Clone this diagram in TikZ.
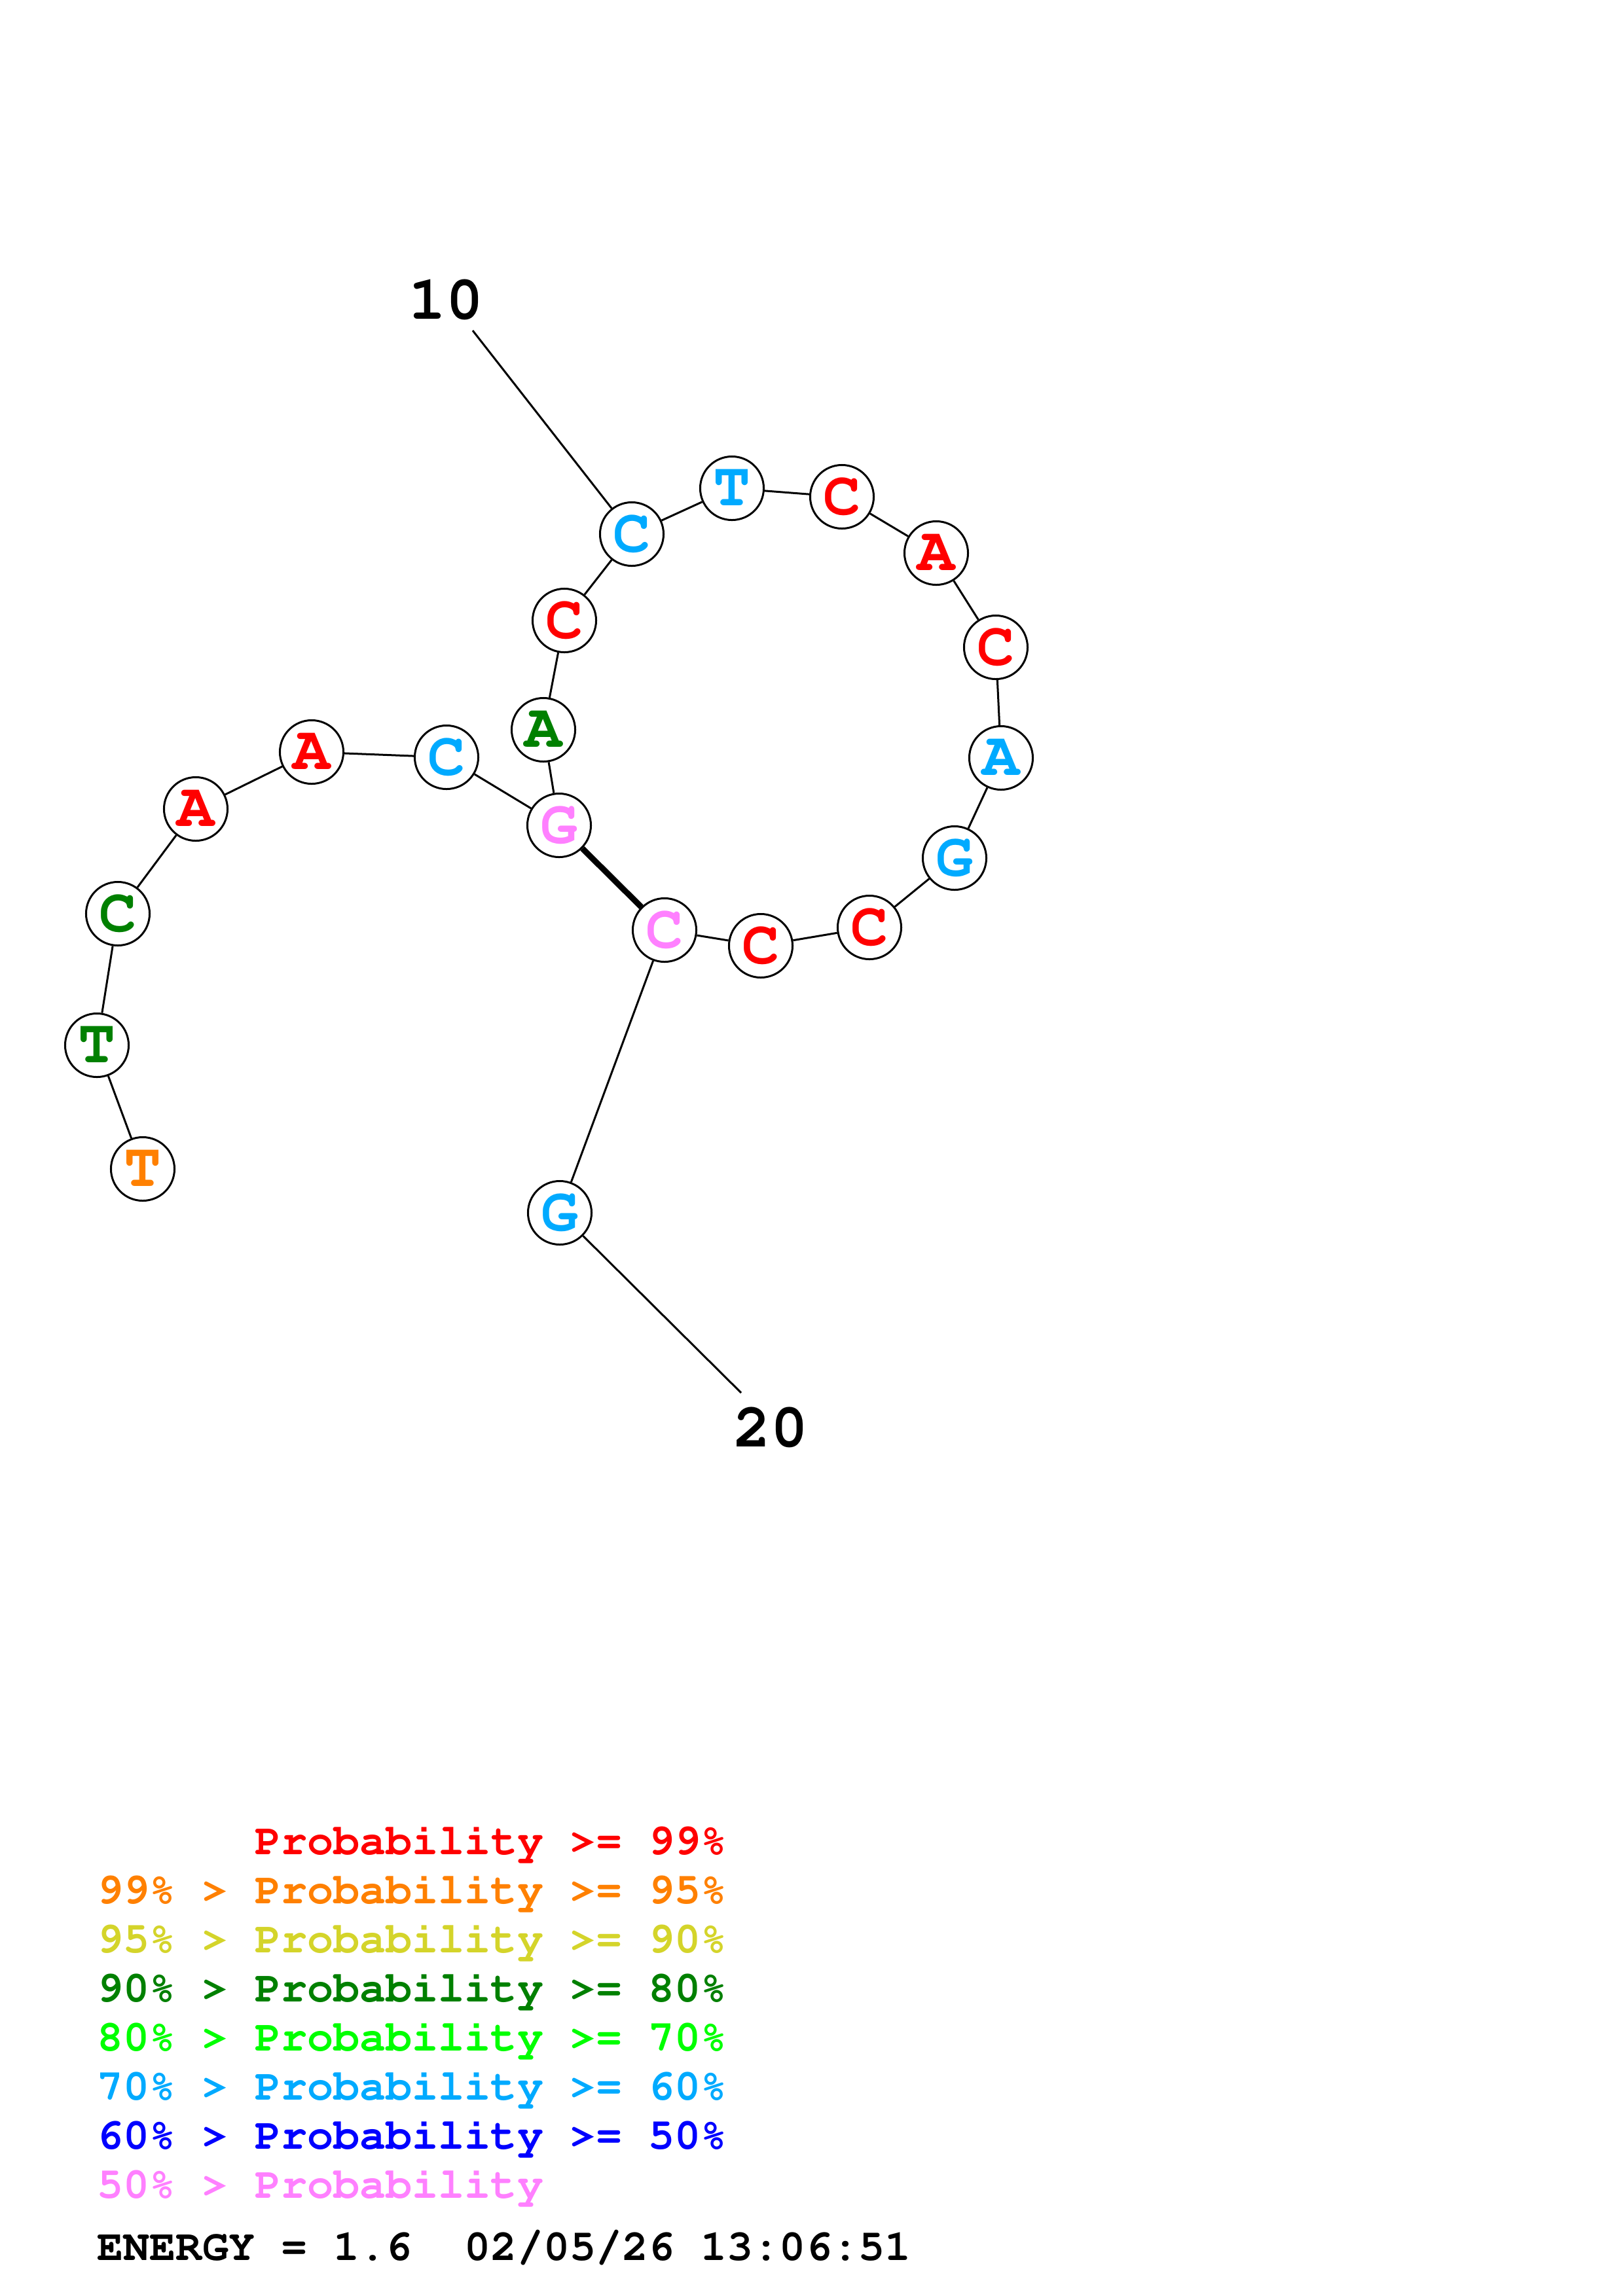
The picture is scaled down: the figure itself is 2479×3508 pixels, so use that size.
\documentclass[tikz,border=0pt]{standalone}
\usepackage[T1,TU]{fontenc}
\definecolor{cred}{RGB}{255,0,0}
\definecolor{corange}{RGB}{255,128,0}
\definecolor{cyellow}{RGB}{212,212,42}
\definecolor{cdkgreen}{RGB}{0,128,0}
\definecolor{cgreen}{RGB}{0,255,0}
\definecolor{csky}{RGB}{0,170,255}
\definecolor{cblue}{RGB}{0,0,255}
\definecolor{cpink}{RGB}{255,128,255}
\newcommand{\courb}{\fontencoding{T1}\fontfamily{pcr}\fontseries{b}\selectfont}
\begin{document}
\begin{tikzpicture}[x=0.01cm,y=-0.01cm,
  nt/.style={circle, draw=black, line width=0.03cm, fill=white, minimum size=0.97cm, inner sep=0pt,
    font={\courb\fontsize{27}{27}\selectfont}},
  bb/.style={line width=0.03cm},
  pr/.style={line width=0.09cm},
  numlab/.style={inner sep=0pt, font={\courb\fontsize{27}{27}\selectfont}},
  lg/.style={anchor=base west, inner sep=0pt, font={\courb\fontsize{19}{19}\selectfont}}]
\fill[white] (0,0) rectangle (2479,3508);
\useasboundingbox (0,0) rectangle (2479,3508);
% nucleotides
\node[nt, text=corange]  (n1)  at (218,1786) {T};
\node[nt, text=cdkgreen] (n2)  at (148,1597) {T};
\node[nt, text=cdkgreen] (n3)  at (180,1396) {C};
\node[nt, text=cred]     (n4)  at (299,1236) {A};
\node[nt, text=cred]     (n5)  at (476,1149) {A};
\node[nt, text=csky]     (n6)  at (682,1157) {C};
\node[nt, text=cpink]    (n7)  at (854,1261) {G};
\node[nt, text=cdkgreen] (n8)  at (830,1115) {A};
\node[nt, text=cred]     (n9)  at (862,948)  {C};
\node[nt, text=csky]     (n10) at (965,816)  {C};
\node[nt, text=csky]     (n11) at (1118,746) {T};
\node[nt, text=cred]     (n12) at (1286,759) {C};
\node[nt, text=cred]     (n13) at (1430,845) {A};
\node[nt, text=cred]     (n14) at (1521,989) {C};
\node[nt, text=csky]     (n15) at (1529,1158) {A};
\node[nt, text=csky]     (n16) at (1458,1311) {G};
\node[nt, text=cred]     (n17) at (1328,1417) {C};
\node[nt, text=cred]     (n18) at (1162,1445) {C};
\node[nt, text=cpink]    (n19) at (1015,1421) {C};
\node[nt, text=csky]     (n20) at (855,1853) {G};
% backbone
\foreach \a/\b in {1/2,2/3,3/4,4/5,5/6,6/7,7/8,8/9,9/10,10/11,11/12,12/13,13/14,14/15,15/16,16/17,17/18,18/19,19/20}
  \draw[bb] (n\a) -- (n\b);
% base pair
\draw[pr] (n7) -- (n19);
% position labels
\node[numlab] (l10) at (681,458) {10};
\coordinate (l10e) at (722,505);
\draw[bb] (l10e) -- (n10);
\node[numlab] (l20) at (1177,2181) {20};
\coordinate (l20e) at (1132,2128);
\draw[bb] (n20) -- (l20e);
% legend
\node[lg, text=cred]     (g1) at (148,2833) {\phantom{99\% > }Probability >= 99\%};
\node[lg, text=corange]  (g2) at (148,2908) {99\% > Probability >= 95\%};
\node[lg, text=cyellow]  (g3) at (148,2983) {95\% > Probability >= 90\%};
\node[lg, text=cdkgreen] (g4) at (148,3058) {90\% > Probability >= 80\%};
\node[lg, text=cgreen]   (g5) at (148,3133) {80\% > Probability >= 70\%};
\node[lg, text=csky]     (g6) at (148,3208) {70\% > Probability >= 60\%};
\node[lg, text=cblue]    (g7) at (148,3283) {60\% > Probability >= 50\%};
\node[lg, text=cpink]    (g8) at (148,3358) {50\% > Probability};
\node[lg, text=black]    (en) at (148,3453) {ENERGY = 1.6\ \ 02/05/26 13:06:51};
\end{tikzpicture}
\end{document}
